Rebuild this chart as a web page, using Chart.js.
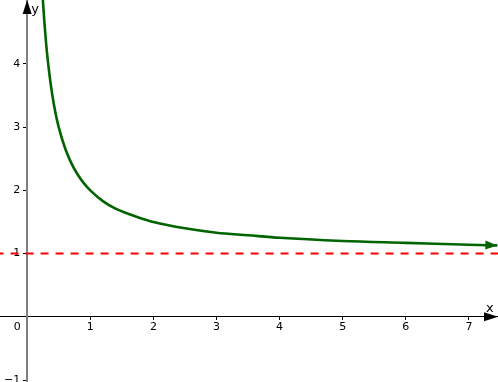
<!DOCTYPE html>
<html>
<head>
<meta charset="utf-8">
<script src="https://cdn.jsdelivr.net/npm/chart.js@4"></script>
<style>
  body { margin: 0; background: #fff; }
  #wrap { width: 498px; height: 382px; }
</style>
</head>
<body>
<div id="wrap"><canvas id="myChart" width="498" height="382"></canvas></div>
<script>
// values
const curveX = [0.2, 0.22, 0.25, 0.3, 0.35, 0.4, 0.45, 0.5, 0.6, 0.7, 0.8, 0.9, 1, 1.2, 1.4, 1.6, 1.8, 2, 2.5, 3, 3.5, 4, 5, 6, 7, 7.45];
const curveY = [6.0, 5.55, 5.0, 4.33, 3.86, 3.5, 3.22, 3.0, 2.67, 2.43, 2.25, 2.11, 2.0, 1.83, 1.71, 1.63, 1.56, 1.5, 1.4, 1.33, 1.29, 1.25, 1.2, 1.17, 1.14, 1.13];
const asymX = [-0.5, 7.5];
const asymY = [1, 1];
const xTicks = [1, 2, 3, 4, 5, 6, 7];
const yTicks = [-1, 1, 2, 3, 4];

const FONT = "'DejaVu Sans', sans-serif";

// center axes should not eat any room from the plot
const noRoom = (s) => {
  if (s.isHorizontal()) s.height = 0; else s.width = 0;
  s.paddingTop = 0;
  s.paddingBottom = 0;
  s.paddingLeft = 0;
  s.paddingRight = 0;
};

const fmt = (v) => (v < 0 ? '\u2212' + Math.abs(v) : String(v));

const axisExtras = {
  id: 'axisExtras',
  afterDraw(chart) {
    const ctx = chart.ctx;
    const xs = chart.scales.x, ys = chart.scales.y;
    const ox = xs.getPixelForValue(0), oy = ys.getPixelForValue(0);
    const area = chart.chartArea;
    ctx.save();
    ctx.fillStyle = '#000';
    // y axis arrow
    ctx.beginPath();
    ctx.moveTo(ox, area.top);
    ctx.lineTo(ox - 4.5, area.top + 14);
    ctx.lineTo(ox + 4.5, area.top + 14);
    ctx.closePath();
    ctx.fill();
    // x axis arrow
    ctx.beginPath();
    ctx.moveTo(area.right, oy);
    ctx.lineTo(area.right - 14, oy - 4.5);
    ctx.lineTo(area.right - 14, oy + 4.5);
    ctx.closePath();
    ctx.fill();
    // curve arrow
    const pts = chart.getDatasetMeta(0).data;
    const a = pts[pts.length - 2], b = pts[pts.length - 1];
    const ang = Math.atan2(b.y - a.y, b.x - a.x);
    ctx.fillStyle = '#006400';
    ctx.translate(b.x, b.y);
    ctx.rotate(ang);
    ctx.beginPath();
    ctx.moveTo(0, 0);
    ctx.lineTo(-12, -4.5);
    ctx.lineTo(-12, 4.5);
    ctx.closePath();
    ctx.fill();
    ctx.setTransform(1, 0, 0, 1, 0, 0);
    // labels
    ctx.fillStyle = '#000';
    ctx.font = '13px ' + FONT;
    ctx.textBaseline = 'middle';
    ctx.textAlign = 'left';
    ctx.fillText('y', ox + 4, area.top + 10);
    ctx.fillText('x', area.right - 12, oy - 8);
    ctx.font = '11px ' + FONT;
    ctx.textAlign = 'center';
    ctx.fillText('0', ox - 10, oy + 10);
    ctx.restore();
  }
};

new Chart(document.getElementById('myChart').getContext('2d'), {
  type: 'scatter',
  data: {
    datasets: [
      {
        label: 'f',
        data: curveX.map((x, i) => ({ x: x, y: curveY[i] })),
        showLine: true,
        borderColor: '#006400',
        borderWidth: 2.6,
        pointRadius: 0,
        cubicInterpolationMode: 'monotone',
        order: 1
      },
      {
        label: 'asymptote',
        data: asymX.map((x, i) => ({ x: x, y: asymY[i] })),
        showLine: true,
        borderColor: '#ff0000',
        borderWidth: 2,
        borderDash: [8, 7],
        pointRadius: 0,
        order: 2
      }
    ]
  },
  options: {
    responsive: false,
    animation: false,
    layout: { padding: 0, autoPadding: false },
    plugins: { legend: { display: false }, tooltip: { enabled: false } },
    scales: {
      x: {
        type: 'linear',
        min: -0.43,
        max: 7.46,
        position: { y: 0 },
        afterFit: noRoom,
        afterBuildTicks: (s) => { s.ticks = xTicks.map(v => ({ value: v })); },
        ticks: { color: '#000', font: { family: FONT, size: 11 }, padding: 1, callback: fmt },
        grid: { drawOnChartArea: false, drawTicks: true, tickLength: 3, color: '#000' },
        border: { color: '#000', width: 1 }
      },
      y: {
        type: 'linear',
        min: -1.03,
        max: 5.01,
        position: { x: 0 },
        afterFit: noRoom,
        afterBuildTicks: (s) => { s.ticks = yTicks.map(v => ({ value: v })); },
        // labels sit right on the axis here, so pad them with spaces
        ticks: { color: '#000', font: { family: FONT, size: 11 }, callback: (v) => fmt(v) + '  ' },
        grid: { drawOnChartArea: false, drawTicks: true, tickLength: 3, color: '#000' },
        border: { color: '#808080', width: 2 }
      }
    }
  },
  plugins: [axisExtras]
});
</script>
</body>
</html>
